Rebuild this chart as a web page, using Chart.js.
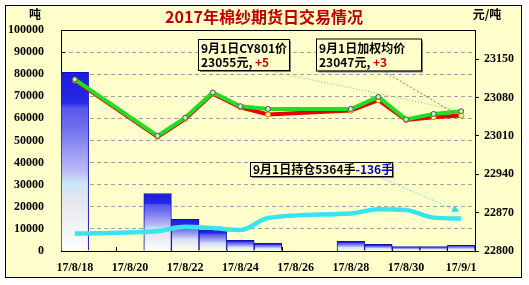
<!DOCTYPE html>
<html><head><meta charset="utf-8">
<script src="https://cdn.jsdelivr.net/npm/chart.js@4.4.1/dist/chart.umd.min.js"></script>
<style>html,body{margin:0;padding:0;background:#fff;overflow:hidden}#wrap{width:529px;height:285px}</style>
</head><body><div id="wrap"><canvas id="c" width="529" height="285"></canvas></div>
<script>
// ---- data ----
const dates = ['17/8/18','17/8/19','17/8/20','17/8/21','17/8/22','17/8/23','17/8/24','17/8/25','17/8/26','17/8/27','17/8/28','17/8/29','17/8/30','17/8/31','17/9/1'];
const volumeTons    = [80800, null, null, 26000, 14300, 9600, 4800, 3500, null, null, 4400, 3000, 2000, 2000, 2600];
const cy801Price    = [23113, null, null, 23010, 23043, 23089, 23064, 23059, null, null, 23059, 23081, 23040, 23050, 23055];
const weightedPrice = [23111, null, null, 23008, 23041, 23087, 23062, 23049, null, null, 23056, 23075, 23039, 23044, 23047];
const openInterest  = [7900, null, null, 9000, 11000, 10400, 9500, 14900, null, null, 17000, 18900, 18600, 15100, 14700];
const rightTicks = [22800, 22870, 22940, 23010, 23080, 23150];
const oiLots = 5364;
const oiChange = -136;
const titleText = '2017年棉纱期货日交易情况';

const BG = '#FFFFCC';
const CJK = '"Noto Sans CJK SC", "Noto Sans", sans-serif';
const NUMF = '"Liberation Serif", serif';

function lastVal(a){ for(let i=a.length-1;i>=0;i--) if(a[i]!=null) return {i, v:a[i]}; }
function prevVal(a, idx){ for(let i=idx-1;i>=0;i--) if(a[i]!=null) return a[i]; }

function barFill(c){
  const chart = c.chart, ys = chart.scales && chart.scales.y;
  const v = c.raw;
  if (!ys || v == null) return '#5050e8';
  const top = ys.getPixelForValue(v), bot = ys.getPixelForValue(0);
  if (!isFinite(top) || !isFinite(bot) || bot <= top) return '#5050e8';
  const g = chart.ctx.createLinearGradient(0, top, 0, bot);
  g.addColorStop(0, '#1c1ce2');
  g.addColorStop(0.17, '#2828e6');
  g.addColorStop(0.2, '#5858ec');
  g.addColorStop(0.3, '#6c6cee');
  g.addColorStop(0.45, '#9c9cf2');
  g.addColorStop(0.55, '#babaf6');
  g.addColorStop(0.62, '#cce6f8');
  g.addColorStop(0.72, '#e6e6f0');
  g.addColorStop(1, '#ffffff');
  return g;
}

function box(ctx, x, y, w, h){
  ctx.fillStyle = '#808080';
  ctx.fillRect(x+2, y+2, w, h);
  ctx.fillStyle = BG;
  ctx.fillRect(x, y, w, h);
  ctx.strokeStyle = '#000'; ctx.lineWidth = 1;
  ctx.strokeRect(x+0.5, y+0.5, w, h);
}
function runs(ctx, x, y, parts){
  for (const [t, col] of parts){ ctx.fillStyle = col; ctx.fillText(t, x, y); x += ctx.measureText(t).width; }
}
function arrow(ctx, x1, y1, x2, y2, color, dash, head){
  ctx.save();
  ctx.strokeStyle = color; ctx.lineWidth = 1; ctx.setLineDash(dash);
  ctx.beginPath(); ctx.moveTo(x1,y1); ctx.lineTo(x2,y2); ctx.stroke();
  if (head){
    ctx.setLineDash([]);
    const a = Math.atan2(y2-y1, x2-x1), L = 7, W = 3.5;
    ctx.fillStyle = color;
    ctx.beginPath();
    ctx.moveTo(x2, y2);
    ctx.lineTo(x2 - L*Math.cos(a) + W*Math.sin(a), y2 - L*Math.sin(a) - W*Math.cos(a));
    ctx.lineTo(x2 - L*Math.cos(a) - W*Math.sin(a), y2 - L*Math.sin(a) + W*Math.cos(a));
    ctx.closePath(); ctx.fill();
  }
  ctx.restore();
}

// annotation box layout, relative to the plot area's top-left
const boxLayout = {
  cy:  {dx: 137, dy: 9,   w: 91,  h: 31},
  avg: {dx: 255, dy: 8.5, w: 105, h: 32},
  oi:  {dx: 189, dy: 132, w: 142, h: 14}
};

const decor = {
  id: 'decor',
  beforeDraw(chart){
    const {ctx, width, height} = chart;
    ctx.save();
    ctx.fillStyle = '#fff'; ctx.fillRect(0,0,width,height);
    ctx.fillStyle = BG; ctx.fillRect(5,5,517,273);
    ctx.strokeStyle = '#000'; ctx.lineWidth = 1; ctx.strokeRect(5.5,5.5,516,272);
    ctx.textBaseline = 'middle'; ctx.textAlign = 'center';
    ctx.font = 'bold 16px ' + CJK;
    ctx.fillStyle = '#c00000';
    ctx.fillText(titleText, 264, 17);
    ctx.fillStyle = '#000';
    ctx.font = 'bold 12px ' + CJK;
    ctx.fillText('吨', 35, 14);
    ctx.fillText('元/吨', 487, 14);
    ctx.restore();
  },
  beforeDatasetsDraw(chart){
    const {ctx, chartArea: a, scales} = chart;
    ctx.save();
    ctx.strokeStyle = '#000'; ctx.lineWidth = 1;
    ctx.beginPath(); ctx.moveTo(a.left, a.top+0.5); ctx.lineTo(a.right, a.top+0.5); ctx.stroke();
    ctx.beginPath();
    for (const t of scales.y.ticks){
      const py = Math.round(scales.y.getPixelForValue(t.value)) + 0.5;
      ctx.moveTo(a.left, py); ctx.lineTo(a.left+4, py);
    }
    const cw = (a.right - a.left) / dates.length;
    for (let k = 2; k < dates.length; k += 2){
      const px = Math.round(a.left + k*cw) + 0.5;
      ctx.moveTo(px, a.bottom); ctx.lineTo(px, a.bottom-4);
    }
    ctx.stroke();
    ctx.restore();
  },
  afterDraw(chart){
    const {ctx, chartArea: a, scales} = chart;
    const x = scales.x, y1 = scales.y1, y = scales.y;
    const g = lastVal(cy801Price), r = lastVal(weightedPrice), o = lastVal(openInterest);
    const gPrev = prevVal(cy801Price, g.i), rPrev = prevVal(weightedPrice, r.i);
    const sgn = d => (d >= 0 ? '+' : '-') + Math.abs(d);
    const B = {};
    for (const k in boxLayout){ const b = boxLayout[k]; B[k] = {x: a.left + b.dx, y: a.top + b.dy, w: b.w, h: b.h}; }

    ctx.save();
    const gp = {x: x.getPixelForValue(g.i), y: y1.getPixelForValue(g.v)};
    const rp = {x: x.getPixelForValue(r.i), y: y1.getPixelForValue(r.v)};
    const op = {x: x.getPixelForValue(o.i), y: y.getPixelForValue(o.v)};
    arrow(ctx, B.cy.x + 76, B.cy.y + B.cy.h + 2, gp.x - 8, gp.y - 2, '#55dd55', [1,2], false);
    arrow(ctx, B.avg.x + 70, B.avg.y + B.avg.h + 2, rp.x - 8, rp.y - 3, '#d06040', [2,2], false);
    arrow(ctx, B.oi.x + 127, B.oi.y + B.oi.h, op.x - 2, op.y - 7, '#30d8e0', [1,2], true);

    ctx.textBaseline = 'middle'; ctx.textAlign = 'left';
    ctx.font = 'bold 12px ' + CJK;
    box(ctx, B.cy.x, B.cy.y, B.cy.w, B.cy.h);
    runs(ctx, B.cy.x + 3, B.cy.y + 9, [['9月1日CY801价', '#000']]);
    runs(ctx, B.cy.x + 3, B.cy.y + 23, [[g.v + '元, ', '#000'], [sgn(g.v - gPrev), '#cc0000']]);

    box(ctx, B.avg.x, B.avg.y, B.avg.w, B.avg.h);
    runs(ctx, B.avg.x + 3, B.avg.y + 9.5, [['9月1日加权均价', '#000']]);
    runs(ctx, B.avg.x + 3, B.avg.y + 24, [[r.v + '元, ', '#000'], [sgn(r.v - rPrev), '#cc0000']]);

    box(ctx, B.oi.x, B.oi.y, B.oi.w, B.oi.h);
    runs(ctx, B.oi.x + 3, B.oi.y + 7.5, [['9月1日持仓' + oiLots + '手', '#000'], [sgn(oiChange) + '手', '#0000cc']]);
    ctx.restore();
  }
};

new Chart(document.getElementById('c'), {
  type: 'bar',
  data: {
    labels: dates,
    datasets: [
      { type: 'line', label: 'CY801', data: cy801Price, yAxisID: 'y1', order: 1,
        borderColor: '#22dd22', borderWidth: 4, tension: 0, spanGaps: true,
        pointRadius: 2.5, pointBorderWidth: 1, pointBorderColor: '#505050', pointBackgroundColor: '#c8f0c8' },
      { type: 'line', label: '加权均价', data: weightedPrice, yAxisID: 'y1', order: 2,
        borderColor: '#e80000', borderWidth: 4, tension: 0, spanGaps: true,
        pointRadius: 2.5, pointBorderWidth: 1, pointBorderColor: '#d08000', pointBackgroundColor: '#ffff80' },
      { type: 'line', label: '持仓', data: openInterest, yAxisID: 'y', order: 3,
        borderColor: '#38e4ee', borderWidth: 4.5, cubicInterpolationMode: 'monotone', spanGaps: true,
        pointRadius: 0 },
      { type: 'bar', label: '成交量', data: volumeTons, yAxisID: 'y', order: 4,
        backgroundColor: barFill, borderColor: '#1010b0', borderWidth: 1,
        barPercentage: 1, categoryPercentage: 1 }
    ]
  },
  options: {
    responsive: false, animation: false,
    layout: { padding: { top: 30, left: 0, right: 0, bottom: 0 } },
    plugins: { legend: { display: false }, tooltip: { enabled: false }, title: { display: false } },
    scales: {
      x: {
        offset: true,
        grid: { display: false, drawTicks: false },
        border: { display: true, color: '#000', width: 1 },
        ticks: { autoSkip: false, maxRotation: 0, color: '#000', padding: 10,
          font: { family: NUMF, size: 12, weight: 'bold' },
          callback: (v, i) => (i % 2 === 0 ? dates[i] : '') },
        afterFit: s => { s.height = 34; }
      },
      y: {
        position: 'left', min: 0, max: 100000,
        ticks: { stepSize: 10000, color: '#000', padding: 17,
          font: { family: NUMF, size: 12, weight: 'bold' }, callback: v => String(v) },
        grid: { drawTicks: false, lineWidth: 1,
          color: c => (c.tick && (c.tick.value === 0 || c.tick.value === 100000)) ? 'rgba(0,0,0,0)' : '#a0a0a0' },
        border: { display: true, color: '#000', width: 1, dash: [4, 3] },
        afterFit: s => { s.width = 61; }
      },
      y1: {
        position: 'right', min: 22800, max: 23203,
        afterBuildTicks: s => { s.ticks = rightTicks.map(v => ({ value: v })); },
        ticks: { color: '#000', padding: 5,
          font: { family: NUMF, size: 12, weight: 'bold' }, callback: v => String(v) },
        grid: { drawOnChartArea: false, drawTicks: true, tickLength: 4, color: '#000' },
        border: { display: true, color: '#000', width: 1 },
        afterFit: s => { s.width = 54; }
      }
    }
  },
  plugins: [decor]
});
</script>
</body></html>
